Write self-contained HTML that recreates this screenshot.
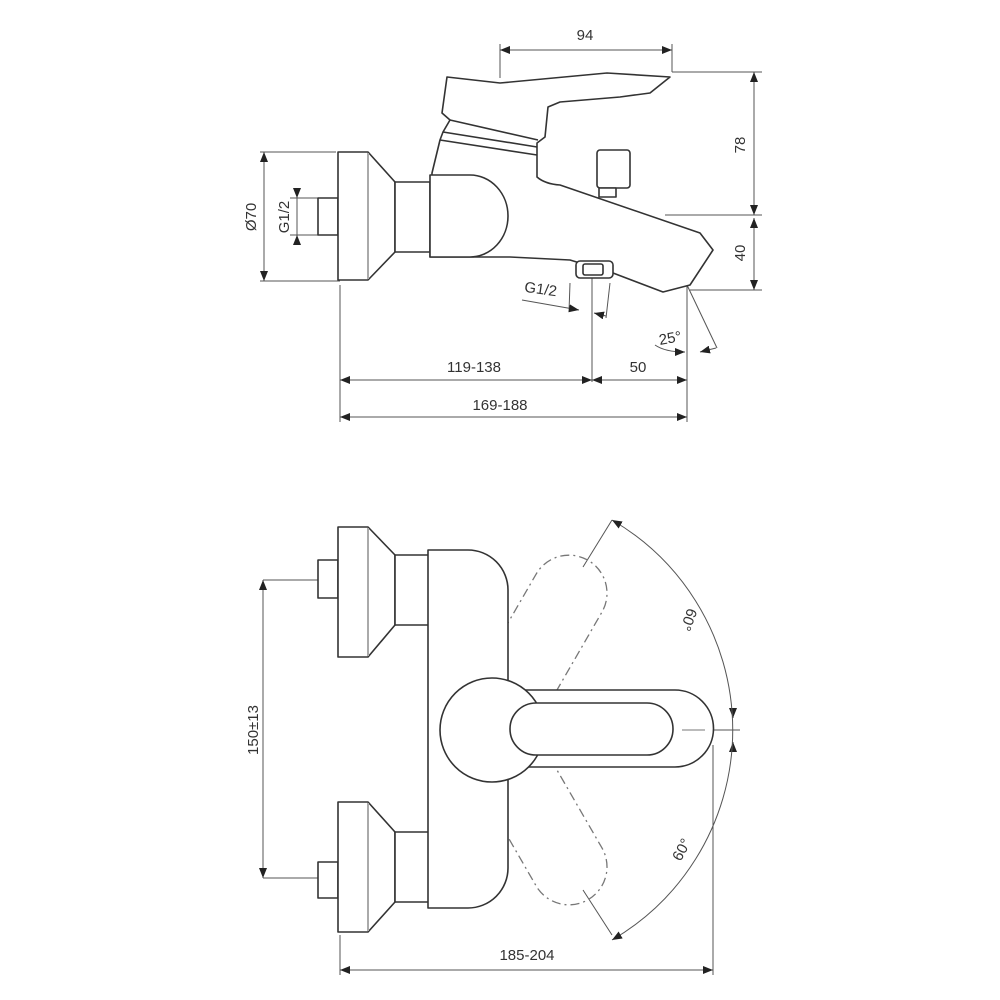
<!DOCTYPE html>
<html><head><meta charset="utf-8"><style>
html,body{margin:0;padding:0;background:#fff}
svg{display:block}
text{font-family:"Liberation Sans",sans-serif;font-size:15px;fill:#333}
</style></head><body>
<svg width="1000" height="1000" viewBox="0 0 1000 1000" xmlns="http://www.w3.org/2000/svg">
<defs>
<marker id="a" viewBox="0 0 10 8" refX="10" refY="4" markerWidth="10" markerHeight="8" markerUnits="userSpaceOnUse" orient="auto-start-reverse"><path d="M0,0L10,4L0,8z" fill="#222"/></marker>
</defs>
<g fill="none" stroke="#555" stroke-width="1">
<line x1="500" y1="78" x2="500" y2="44"/><line x1="672" y1="72" x2="672" y2="44"/>
<line x1="500" y1="50" x2="672" y2="50" marker-start="url(#a)" marker-end="url(#a)"/>
<line x1="672" y1="72" x2="762" y2="72"/><line x1="665" y1="215" x2="762" y2="215"/><line x1="690" y1="290" x2="762" y2="290"/>
<line x1="754" y1="72" x2="754" y2="215" marker-start="url(#a)" marker-end="url(#a)"/>
<line x1="754" y1="218" x2="754" y2="290" marker-start="url(#a)" marker-end="url(#a)"/>
<line x1="260" y1="152" x2="336" y2="152"/><line x1="260" y1="281" x2="340" y2="281"/>
<line x1="264" y1="152" x2="264" y2="281" marker-start="url(#a)" marker-end="url(#a)"/>
<line x1="290" y1="198" x2="318" y2="198"/><line x1="290" y1="235" x2="318" y2="235"/>
<line x1="297" y1="188" x2="297" y2="198" marker-end="url(#a)"/><line x1="297" y1="245" x2="297" y2="235" marker-end="url(#a)"/>
<line x1="297" y1="198" x2="297" y2="235"/>
<line x1="570" y1="283" x2="569" y2="312"/><line x1="610" y1="283" x2="606" y2="318"/>
<line x1="522" y1="300" x2="579" y2="310" marker-end="url(#a)"/><line x1="606" y1="316" x2="594" y2="313" marker-end="url(#a)"/>
<line x1="592" y1="262" x2="592" y2="382"/>
<line x1="340" y1="285" x2="340" y2="422"/><line x1="687" y1="284" x2="687" y2="422"/>
<line x1="687" y1="285" x2="717" y2="348"/>
<path d="M655,345 Q665,352 685,352" marker-end="url(#a)"/><line x1="700" y1="352" x2="716" y2="348" marker-start="url(#a)"/>
<line x1="340" y1="380" x2="592" y2="380" marker-start="url(#a)" marker-end="url(#a)"/>
<line x1="592" y1="380" x2="687" y2="380" marker-start="url(#a)" marker-end="url(#a)"/>
<line x1="340" y1="417" x2="687" y2="417" marker-start="url(#a)" marker-end="url(#a)"/>
<line x1="263" y1="580" x2="318" y2="580"/><line x1="263" y1="878" x2="318" y2="878"/>
<line x1="263" y1="580" x2="263" y2="878" marker-start="url(#a)" marker-end="url(#a)"/>
<line x1="340" y1="935" x2="340" y2="975"/><line x1="713" y1="745" x2="713" y2="975"/>
<line x1="340" y1="970" x2="713" y2="970" marker-start="url(#a)" marker-end="url(#a)"/>
<line x1="682" y1="730" x2="740" y2="730"/>
<line x1="733" y1="708" x2="733" y2="718" marker-end="url(#a)"/><line x1="733" y1="752" x2="733" y2="742" marker-end="url(#a)"/>
<line x1="583" y1="567" x2="612" y2="520"/><line x1="583" y1="890" x2="612" y2="935"/>
<path d="M612,520 A243,243 0 0 1 612,940" marker-start="url(#a)" marker-end="url(#a)"/>
</g>
<g fill="none" stroke="#777" stroke-width="1.3" stroke-dasharray="9,4,2,4">
<g transform="rotate(-60 490 730)"><path d="M470,692 H648 A38,38 0 0 1 648,768 H470"/></g>
<g transform="rotate(60 490 730)"><path d="M470,692 H648 A38,38 0 0 1 648,768 H470"/></g>
</g>
<g fill="#fff" stroke="#333" stroke-width="1.6" stroke-linejoin="round">
<rect x="318" y="198" width="20" height="37"/>
<path d="M338,152 H368 L395,182 V252 L368,280 H338 Z"/>
<line x1="368" y1="153" x2="368" y2="279" stroke="#aaa" stroke-width="2"/>
<rect x="395" y="182" width="35" height="70"/>
<path d="M440,140 L443,132 L450,120 L442,113 L447,77 L500,83 L607,73 L670,77 L650,93 L620,97 L560,102 L548,107 L545,137 L537,143 L537,177 Q545,184 560,185 L700,233 L713,250 L690,285 L663,292 L613,273 L570,260 L510,257 L430,257 L432,173 Z"/>
<path d="M450,120 L538,140 M443,132 L537,147 M440,140 L537,155" fill="none"/>
<path d="M430,175 H470 A38,41 0 0 1 470,257 H430 Z"/>
<rect x="597" y="150" width="33" height="38" rx="3"/>
<rect x="599" y="188" width="17" height="9"/>
<rect x="576" y="261" width="37" height="17" rx="4"/>
<rect x="583" y="264" width="20" height="11" rx="2"/>
<rect x="318" y="560" width="20" height="38"/>
<path d="M338,527 H368 L395,555 V625 L368,657 H338 Z"/>
<line x1="368" y1="528" x2="368" y2="656" stroke="#aaa" stroke-width="2"/>
<rect x="395" y="555" width="35" height="70"/>
<rect x="318" y="862" width="20" height="36"/>
<path d="M338,802 H368 L395,832 V902 L368,932 H338 Z"/>
<line x1="368" y1="803" x2="368" y2="931" stroke="#aaa" stroke-width="2"/>
<rect x="395" y="832" width="35" height="70"/>
<path d="M428,550 H468 A40,40 0 0 1 508,590 V868 A40,40 0 0 1 468,908 H428 Z"/>
<path d="M520,690 H675 A38,38 0 0 1 675,767 H520 Z"/>
<circle cx="492" cy="730" r="52"/>
<rect x="510" y="703" width="163" height="52" rx="26"/>
</g>
<line x1="682" y1="730" x2="705" y2="730" stroke="#777" stroke-width="1"/>
<text x="585" y="40" text-anchor="middle">94</text>
<text transform="translate(745,145) rotate(-90)" text-anchor="middle">78</text>
<text transform="translate(745,253) rotate(-90)" text-anchor="middle">40</text>
<text transform="translate(256,217) rotate(-90)" text-anchor="middle">Ø70</text>
<text transform="translate(289,217) rotate(-90)" text-anchor="middle">G1/2</text>
<text transform="translate(540,294) rotate(8)" text-anchor="middle">G1/2</text>
<text transform="translate(671,343) rotate(-10)" text-anchor="middle">25°</text>
<text x="474" y="372" text-anchor="middle">119-138</text>
<text x="638" y="372" text-anchor="middle">50</text>
<text x="500" y="410" text-anchor="middle">169-188</text>
<text transform="translate(258,730) rotate(-90)" text-anchor="middle">150±13</text>
<text transform="translate(684,618) rotate(110)" text-anchor="middle">60°</text>
<text transform="translate(686,852) rotate(-62)" text-anchor="middle">60°</text>
<text x="527" y="960" text-anchor="middle">185-204</text>
</svg>
</body></html>
